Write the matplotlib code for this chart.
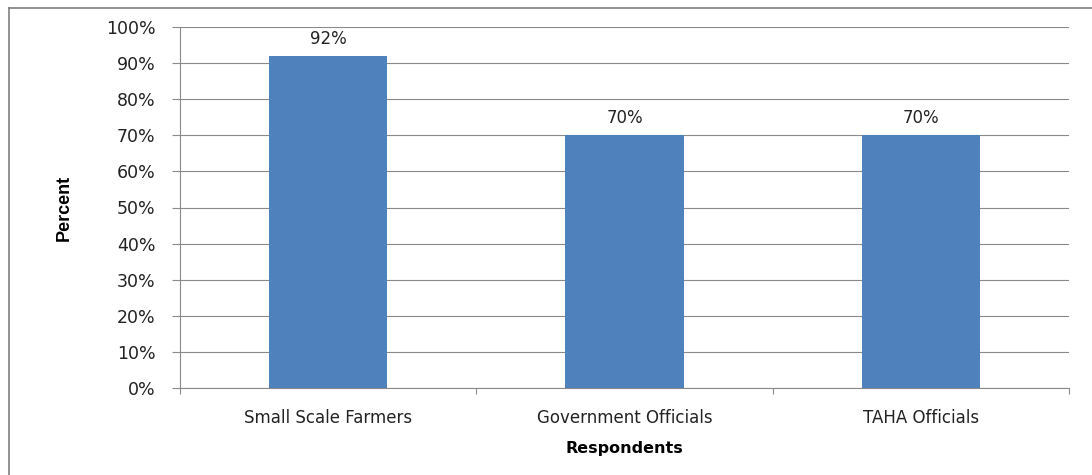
"""Respondents bar chart, Excel-style."""

import matplotlib

matplotlib.use("Agg")
import matplotlib.pyplot as plt
from matplotlib.lines import Line2D
from matplotlib.ticker import FixedLocator, FuncFormatter

categories = ["Small Scale Farmers", "Government Officials", "TAHA Officials"]
percent_values = [92, 70, 70]
y_ticks = [0, 10, 20, 30, 40, 50, 60, 70, 80, 90, 100]

bar_color = "#4F81BD"
grid_color = "#8a8a8a"

fig = plt.figure(figsize=(10.92, 4.75), dpi=100)
ax = fig.add_axes([180 / 1092, 1 - 388 / 475, 889 / 1092, 361 / 475])

positions = list(range(len(categories)))
ax.bar(positions, percent_values, width=0.4, color=bar_color, zorder=3)

for x, v in zip(positions, percent_values):
    ax.annotate(f"{v}%", (x, v), xytext=(0, 6), textcoords="offset points",
                ha="center", va="bottom", fontsize=12, color="#222222")

ax.set_xlim(-0.5, len(categories) - 0.5)
ax.set_ylim(0, 100)
ax.set_yticks(y_ticks)
ax.yaxis.set_major_formatter(FuncFormatter(lambda v, _: f"{v:.0f}%"))
ax.grid(axis="y", color=grid_color, linewidth=0.8, zorder=0)

ax.set_xticks(positions)
ax.set_xticklabels(categories)
ax.xaxis.set_minor_locator(FixedLocator([p - 0.5 for p in positions] + [positions[-1] + 0.5]))
ax.tick_params(axis="x", which="major", length=0, pad=15, labelsize=12, labelcolor="#222222")
ax.tick_params(axis="x", which="minor", length=4.5, width=0.8, color=grid_color)
ax.tick_params(axis="y", length=5.5, width=0.8, color=grid_color, pad=12,
               labelsize=12.5, labelcolor="#222222")

for side in ["top", "right"]:
    ax.spines[side].set_visible(False)
for side in ["left", "bottom"]:
    ax.spines[side].set_color(grid_color)
    ax.spines[side].set_linewidth(0.8)

ax.set_ylabel("Percent", fontsize=13, fontweight="bold", family="Liberation Sans",
              labelpad=24)
ax.set_xlabel("Respondents", fontsize=11.5, fontweight="bold", family="DejaVu Sans",
              labelpad=10)

# outer chart border (left and top edges visible in the reference)
fig.add_artist(Line2D([9 / 1092, 9 / 1092], [0, 1 - 8 / 475], transform=fig.transFigure,
                      color="#7f7f7f", linewidth=1.2))
fig.add_artist(Line2D([9 / 1092, 1], [1 - 8 / 475, 1 - 8 / 475], transform=fig.transFigure,
                      color="#7f7f7f", linewidth=1.2))

fig.savefig("out.png", dpi=100)
